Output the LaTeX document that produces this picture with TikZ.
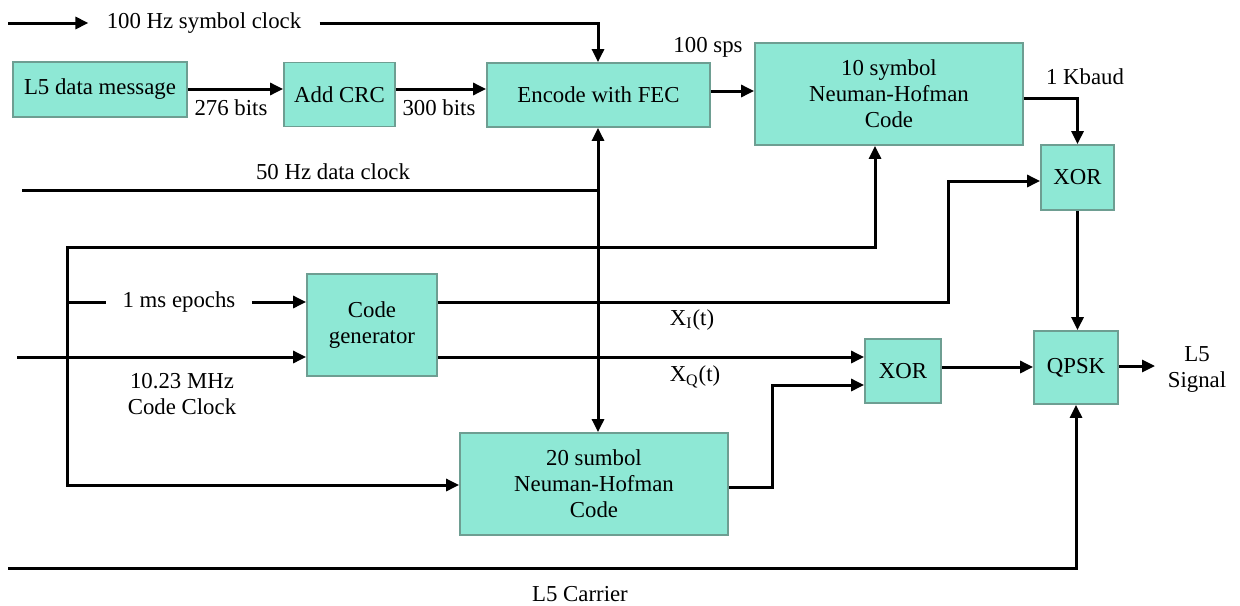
\documentclass[tikz,border=0pt]{standalone}
\usepackage{fontspec}
\setmainfont{Liberation Serif}
\usetikzlibrary{arrows.meta}
\definecolor{boxfill}{HTML}{8EE8D5}
\definecolor{boxline}{HTML}{6E9E92}
\begin{document}
\begin{tikzpicture}[x=0.5pt,y=-0.5pt,
  font=\fontsize{11.4}{13}\selectfont,
  blk/.style={draw=boxline,line width=0.9pt,fill=boxfill,align=center,inner sep=1pt},
  wire/.style={line width=1.5pt,black},
  arr/.style={wire,-{Triangle[length=6.5pt,width=6pt]}},
  arrb/.style={wire,{Triangle[length=6.5pt,width=6pt]}-{Triangle[length=6.5pt,width=6pt]}},
  lbl/.style={align=center,inner sep=1pt}]
\useasboundingbox (0,0) rectangle (1240,605);
% blocks
\node[blk,minimum width=87pt,minimum height=27.5pt] (msg) at (100,89.5) {L5 data message};
\node[blk,minimum width=55.5pt,minimum height=32pt] (crc) at (339.5,94.5) {Add CRC};
\node[blk,minimum width=111.5pt,minimum height=32pt] (fec) at (598.5,95) {Encode with FEC};
\node[blk,minimum width=134pt,minimum height=51pt] (nh10) at (889,94) {10 symbol\\Neuman-Hofman\\Code};
\node[blk,minimum width=36.5pt,minimum height=32.5pt] (xor1) at (1077.5,177.5) {XOR};
\node[blk,minimum width=42pt,minimum height=36.5pt] (qpsk) at (1076,367.5) {QPSK};
\node[blk,minimum width=38pt,minimum height=32pt] (xor2) at (903,371) {XOR};
\node[blk,minimum width=65pt,minimum height=51pt] (cg) at (372,325) {Code\\generator};
\node[blk,minimum width=134pt,minimum height=51pt] (nh20) at (594,484) {20 sumbol\\Neuman-Hofman\\Code};
% text labels
\node[lbl,inner xsep=9pt] (sym) at (204,23) {100 Hz symbol clock};
\node[lbl,inner xsep=8pt] (eps) at (179,302) {1 ms epochs};
\node[lbl] (b276) at (231,108) {276 bits};
\node[lbl] (b300) at (439,108) {300 bits};
\node[lbl] (sps) at (708,47) {100 sps};
\node[lbl] (kb) at (1085,77) {1 Kbaud};
\node[lbl] (dclk) at (333,172) {50 Hz data clock};
\node[lbl] (xi) at (692,320) {X\textsubscript{I}(t)};
\node[lbl] (xq) at (695,377) {X\textsubscript{Q}(t)};
\node[lbl] (cclk) at (182,394) {10.23 MHz\\Code Clock};
\node[lbl] (carr) at (580,594) {L5 Carrier};
\node[lbl] (sig) at (1197,369) {L5\\Signal};
% coordinates for free ends
\coordinate (symIn) at (8,23);
\coordinate (dIn) at (22,190);
\coordinate (dJ) at (598,190);
\coordinate (cIn) at (17,357);
\coordinate (carIn) at (8,568);
\coordinate (loopTL) at (67,247);
\coordinate (loopE) at (67,302);
\coordinate (sigOut) at (1155,366);
% connectors
\draw[arr] (symIn) -- (sym.west);
\draw[arr] (sym.east) -| (fec.north -| dJ);
\draw[arr] (msg.east |- 0,89) -- (crc.west |- 0,89);
\draw[arr] (crc.east |- 0,89) -- (fec.west |- 0,89);
\draw[arr] (fec.east |- 0,91) -- (nh10.west |- 0,91);
\draw[arr] (nh10.east |- 0,98) -| (xor1.north);
\draw[arr] (xor1.south) -- (xor1.south |- qpsk.north);
\draw[arr] (qpsk.east |- 0,366) -- (sigOut);
\draw[wire] (dIn) -- (dJ);
\draw[arrb] (fec.south -| dJ) -- (nh20.north -| dJ);
\draw[arrb] (nh20.west |- 0,485) -| (loopTL) -| (nh10.south -| 875,0);
\draw[wire] (loopE) -- (eps.west);
\draw[arr] (eps.east) -- (cg.west |- 0,302);
\draw[arr] (cIn) -- (cg.west |- 0,357);
\draw[arr] (cg.east |- 0,302) -| (948,181) -- (xor1.west |- 0,181);
\draw[arr] (cg.east |- 0,357) -- (xor2.west |- 0,357);
\draw[arr] (nh20.east |- 0,487) -| (772,385) -- (xor2.west |- 0,385);
\draw[arr] (xor2.east |- 0,367) -- (qpsk.west |- 0,367);
\draw[arr] (carIn) -| (qpsk.south);
\end{tikzpicture}
\end{document}
